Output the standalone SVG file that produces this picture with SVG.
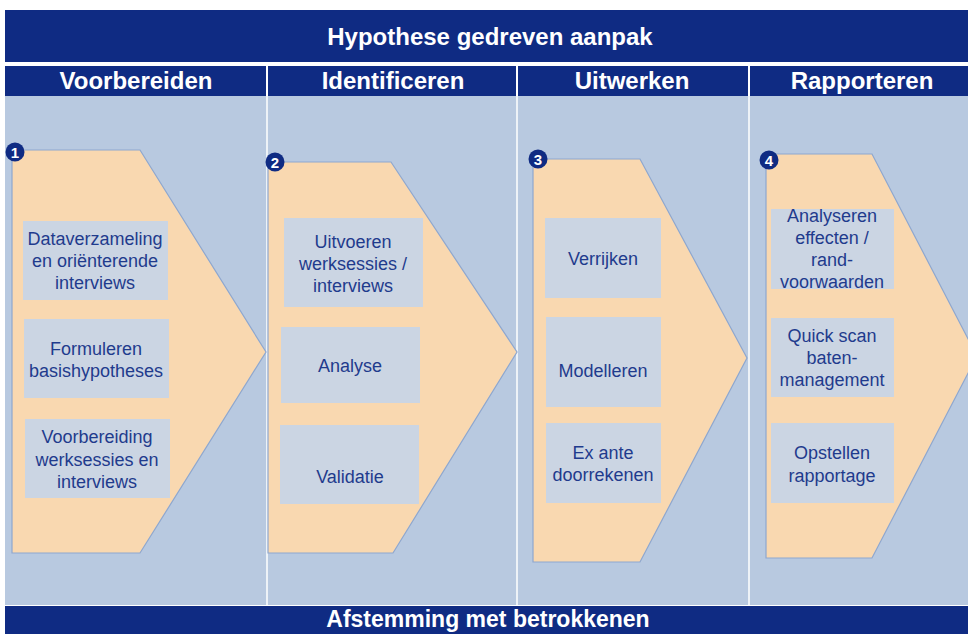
<svg xmlns="http://www.w3.org/2000/svg" width="968" height="634" viewBox="0 0 968 634">
<style>
.bar{fill:#0F2B83}
.hdr{font-family:"Liberation Sans",Arial,sans-serif;font-weight:bold;font-size:24px;fill:#FFFFFF;text-anchor:middle}
.chev{fill:#F9D8B0;stroke:#8EA7CF;stroke-width:1.2}
.box{fill:#CBD5E3}
.txt{font-family:"Liberation Sans",Arial,sans-serif;font-size:18px;fill:#1F3B8D;text-anchor:middle}
.badge{fill:#0F2B83}
.num{font-family:"Liberation Sans",Arial,sans-serif;font-weight:bold;font-size:15px;fill:#FFFFFF;text-anchor:middle}
.div{stroke:#FFFFFF;stroke-width:1.5}
</style>
<rect x="0" y="0" width="968" height="634" fill="#FFFFFF"/>
<g id="background">
<rect x="5" y="96" width="963" height="509" fill="#B8C9E0"/>
<line class="div" x1="267" y1="66" x2="267" y2="605"/>
<line class="div" x1="517" y1="66" x2="517" y2="605"/>
<line class="div" x1="749" y1="66" x2="749" y2="605"/>
</g>
<g id="title">
<rect class="bar" x="5" y="10" width="963" height="52"/>
<text class="hdr" x="490" y="45">Hypothese gedreven aanpak</text>
</g>
<g id="headers">
<rect class="bar" x="5" y="66" width="261" height="30"/>
<rect class="bar" x="268" y="66" width="248" height="30"/>
<rect class="bar" x="518" y="66" width="230" height="30"/>
<rect class="bar" x="750" y="66" width="218" height="30"/>
<text class="hdr" x="136" y="89">Voorbereiden</text>
<text class="hdr" x="393" y="89">Identificeren</text>
<text class="hdr" x="632" y="89">Uitwerken</text>
<text class="hdr" x="862" y="89">Rapporteren</text>
</g>
<g id="footer">
<rect class="bar" x="5" y="606" width="963" height="28"/>
<text class="hdr" x="488" y="627" style="font-size:23px">Afstemming met betrokkenen</text>
</g>
<g id="phase1">
<polygon class="chev" points="12,150 140,150 266,352 140,553 12,553"/>
<rect class="box" x="23" y="221" width="145" height="79"/>
<text class="txt" x="95" y="245">Dataverzameling</text>
<text class="txt" x="95" y="267">en oriënterende</text>
<text class="txt" x="95" y="289">interviews</text>
<rect class="box" x="24" y="319" width="145" height="79"/>
<text class="txt" x="96" y="355">Formuleren</text>
<text class="txt" x="96" y="377">basishypotheses</text>
<rect class="box" x="25" y="419" width="145" height="79"/>
<text class="txt" x="97" y="443">Voorbereiding</text>
<text class="txt" x="97" y="466">werksessies en</text>
<text class="txt" x="97" y="488">interviews</text>
<circle class="badge" cx="15" cy="152" r="9.5"/>
<text class="num" x="15" y="157.5">1</text>
</g>
<g id="phase2">
<polygon class="chev" points="268,162 391,162 517,352 393,553 268,553"/>
<rect class="box" x="284" y="218" width="139" height="89"/>
<text class="txt" x="353" y="248">Uitvoeren</text>
<text class="txt" x="353" y="270">werksessies /</text>
<text class="txt" x="353" y="292">interviews</text>
<rect class="box" x="281" y="327" width="139" height="76"/>
<text class="txt" x="350" y="372">Analyse</text>
<rect class="box" x="280" y="425" width="139" height="79"/>
<text class="txt" x="350" y="483">Validatie</text>
<circle class="badge" cx="275" cy="162" r="9.5"/>
<text class="num" x="275" y="167.5">2</text>
</g>
<g id="phase3">
<polygon class="chev" points="533,159 640,159 747,358 640,562 533,562"/>
<rect class="box" x="545" y="218" width="116" height="80"/>
<text class="txt" x="603" y="265">Verrijken</text>
<rect class="box" x="546" y="317" width="115" height="90"/>
<text class="txt" x="603" y="377">Modelleren</text>
<rect class="box" x="546" y="423" width="115" height="80"/>
<text class="txt" x="603" y="459">Ex ante</text>
<text class="txt" x="603" y="481">doorrekenen</text>
<circle class="badge" cx="538" cy="159" r="9.5"/>
<text class="num" x="538" y="164.5">3</text>
</g>
<g id="phase4">
<polygon class="chev" points="766,154 872,154 977,356 872,558 766,558"/>
<rect class="box" x="771" y="209" width="123" height="80"/>
<text class="txt" x="832" y="222">Analyseren</text>
<text class="txt" x="832" y="244">effecten /</text>
<text class="txt" x="832" y="266">rand-</text>
<text class="txt" x="832" y="288">voorwaarden</text>
<rect class="box" x="771" y="318" width="123" height="79"/>
<text class="txt" x="832" y="342">Quick scan</text>
<text class="txt" x="832" y="364">baten-</text>
<text class="txt" x="832" y="386">management</text>
<rect class="box" x="771" y="423" width="123" height="80"/>
<text class="txt" x="832" y="459">Opstellen</text>
<text class="txt" x="832" y="482">rapportage</text>
<circle class="badge" cx="769" cy="160" r="9.5"/>
<text class="num" x="769" y="165.5">4</text>
</g>
<g id="connectors"></g>
</svg>
